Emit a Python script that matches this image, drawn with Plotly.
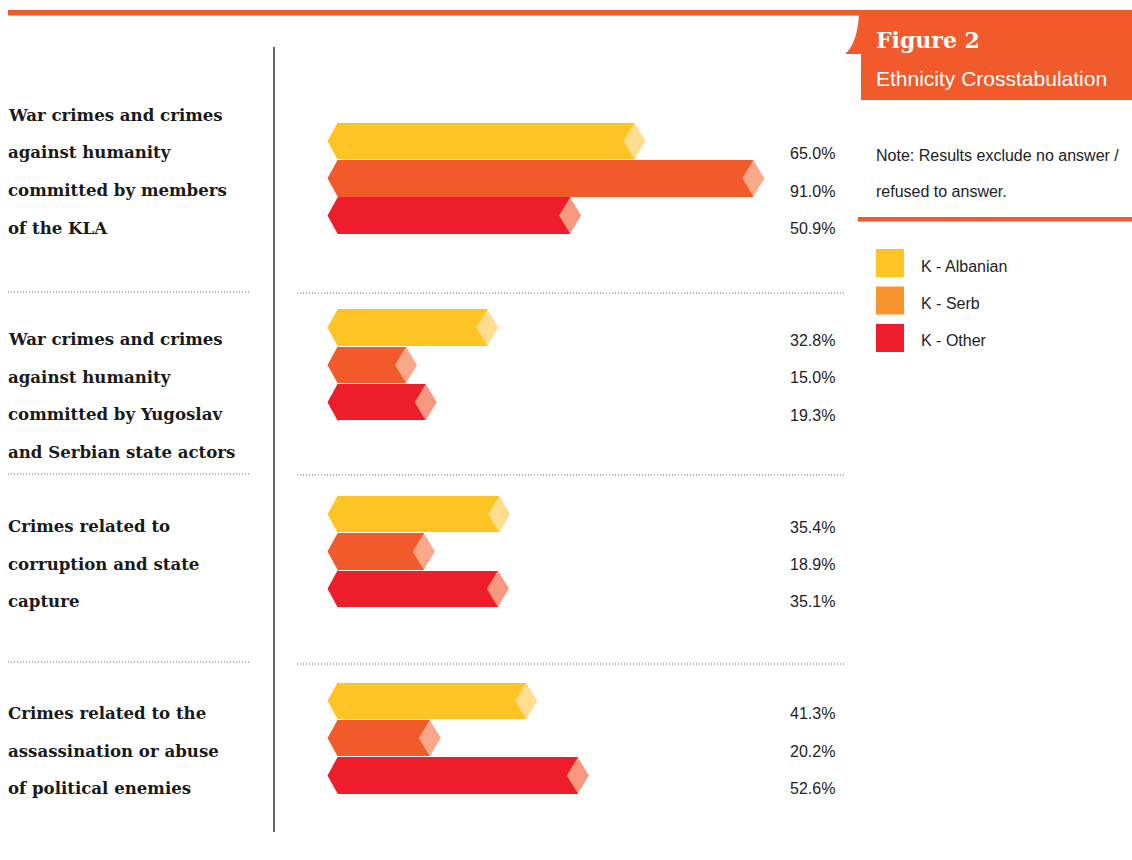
import plotly.graph_objects as go

# ---------------- data ----------------
categories = [
    ["War crimes and crimes", "against humanity", "committed by members", "of the KLA"],
    ["War crimes and crimes", "against humanity", "committed by Yugoslav", "and Serbian state actors"],
    ["Crimes related to", "corruption and state", "capture"],
    ["Crimes related to the", "assassination or abuse", "of political enemies"],
]
series_names = ["K - Albanian", "K - Serb", "K - Other"]
albanian = [65.0, 32.8, 35.4, 41.3]
serb = [91.0, 15.0, 18.9, 20.2]
other = [50.9, 19.3, 35.1, 52.6]
series_values = [albanian, serb, other]

title_text = "Figure 2"
subtitle_text = "Ethnicity Crosstabulation"
note_lines = ["Note: Results exclude no answer /", "refused to answer."]

# ---------------- styling / layout ----------------
W, H = 1132, 860
X0 = 337.5          # pixel position of 0 %
PX = 4.57           # pixels per percent
Y_FIRST = 141.0
GROUP_STEP = 186.6
BAR_STEP = 37.3
BAR_H = 36.4
CHEV = 10.0 / PX    # left chevron depth (in % units)
DIA = 11.0 / PX     # half width of end diamond (in % units)
OVL = 0.4           # small overlap to hide seams

bar_colors = ["#FEC423", "#F15A2B", "#EE1D2B"]
dia_colors = ["#FFDD90", "#F9A98A", "#F6977F"]
legend_colors = ["#FEC423", "#F7942C", "#EE1D2B"]
ORANGE = "#F15A2B"
TXT = "#222222"
SANS = "Liberation Sans, Arial"

label_first_y = [115, 339, 526, 713]
LINE_STEP = 37.5
sep_left_y = [292, 474, 662]
sep_right_y = [293, 475, 664]
PAD = 2  # annotation inner padding offset

def px(x):
    return x / W

def py(y):
    return 1 - y / H

fig = go.Figure()

for s, (name, vals) in enumerate(zip(series_names, series_values)):
    ys = [Y_FIRST + g * GROUP_STEP + s * BAR_STEP for g in range(len(vals))]
    # bar bodies
    fig.add_trace(go.Bar(
        x=vals, y=ys, base=0, orientation="h", width=BAR_H,
        marker=dict(color=bar_colors[s], line=dict(width=0)),
        name=name, showlegend=False, hoverinfo="x",
    ))
    # left chevrons and end diamonds
    cx, cy, dx, dy = [], [], [], []
    h2 = BAR_H / 2
    for v, y in zip(vals, ys):
        cx += [OVL, 0, -CHEV, 0, OVL, OVL, None]
        cy += [y - h2, y - h2, y, y + h2, y + h2, y - h2, None]
        dx += [v - DIA, v, v + DIA, v, v - DIA, None]
        dy += [y, y - h2, y, y + h2, y, None]
    fig.add_trace(go.Scatter(x=cx, y=cy, mode="lines", fill="toself",
                             fillcolor=bar_colors[s], line=dict(width=0),
                             showlegend=False, hoverinfo="skip"))
    fig.add_trace(go.Scatter(x=dx, y=dy, mode="lines", fill="toself",
                             fillcolor=dia_colors[s], line=dict(width=0),
                             showlegend=False, hoverinfo="skip"))
    # value labels
    for v, y in zip(vals, ys):
        fig.add_annotation(x=px(790 - PAD), y=py(y + 13), xref="paper", yref="paper",
                           text=f"{v:.1f}%", showarrow=False, xanchor="left",
                           yanchor="middle", font=dict(family=SANS, size=16, color=TXT))

# category labels
for g, lines in enumerate(categories):
    for i, line in enumerate(lines):
        fig.add_annotation(x=px(8 - PAD), y=py(label_first_y[g] + i * LINE_STEP),
                           xref="paper", yref="paper", text=f"<b>{line}</b>",
                           showarrow=False, xanchor="left", yanchor="middle",
                           font=dict(family="DejaVu Serif", size=16.6, color="#1a1a1a"))

shapes = []
# top orange rule
shapes.append(dict(type="rect", xref="paper", yref="paper", x0=px(8), x1=px(862),
                   y0=py(15.5), y1=py(10), fillcolor=ORANGE, line=dict(width=0)))
# title tab
path = (f"M {px(860)},{py(10)} L {px(1132)},{py(10)} L {px(1132)},{py(100)} "
        f"L {px(861)},{py(100)} L {px(861)},{py(54)} L {px(845)},{py(54)} "
        f"Q {px(857)},{py(44)} {px(859)},{py(15)} Z")
shapes.append(dict(type="path", xref="paper", yref="paper", path=path,
                   fillcolor=ORANGE, line=dict(width=0)))
# note underline
shapes.append(dict(type="rect", xref="paper", yref="paper", x0=px(858), x1=px(1132),
                   y0=py(221.5), y1=py(217), fillcolor=ORANGE, line=dict(width=0)))
# vertical divider
shapes.append(dict(type="line", xref="paper", yref="paper", x0=px(274), x1=px(274),
                   y0=py(47), y1=py(832), line=dict(color="#333333", width=1.5)))
# dotted separators
for y in sep_left_y:
    shapes.append(dict(type="line", xref="paper", yref="paper", x0=px(8), x1=px(250),
                       y0=py(y), y1=py(y), line=dict(color="#666666", width=1, dash="1px,2px")))
for y in sep_right_y:
    shapes.append(dict(type="line", xref="paper", yref="paper", x0=px(297), x1=px(845),
                       y0=py(y), y1=py(y), line=dict(color="#666666", width=1, dash="1px,2px")))
# legend swatches + labels
for i, (name, col) in enumerate(zip(series_names, legend_colors)):
    top = 249 + i * 37.5
    shapes.append(dict(type="rect", xref="paper", yref="paper", x0=px(876), x1=px(904),
                       y0=py(top + 28), y1=py(top), fillcolor=col, line=dict(width=0)))
    fig.add_annotation(x=px(921 - PAD), y=py(top + 17), xref="paper", yref="paper", text=name,
                       showarrow=False, xanchor="left", yanchor="middle",
                       font=dict(family=SANS, size=16, color=TXT))

# title texts
fig.add_annotation(x=px(876 - PAD), y=py(40), xref="paper", yref="paper", text=f"<b>{title_text}</b>",
                   showarrow=False, xanchor="left", yanchor="middle",
                   font=dict(family="DejaVu Serif", size=22, color="white"))
fig.add_annotation(x=px(876 - PAD), y=py(78), xref="paper", yref="paper", text=subtitle_text,
                   showarrow=False, xanchor="left", yanchor="middle",
                   font=dict(family=SANS, size=21, color="white"))
for i, line in enumerate(note_lines):
    fig.add_annotation(x=px(876 - PAD), y=py(155 + i * 36.5), xref="paper", yref="paper", text=line,
                       showarrow=False, xanchor="left", yanchor="middle",
                       font=dict(family=SANS, size=16, color=TXT))

fig.update_layout(
    width=W, height=H, margin=dict(l=0, r=0, t=0, b=0),
    paper_bgcolor="white", plot_bgcolor="white",
    xaxis=dict(range=[-X0 / PX, (W - X0) / PX], visible=False, fixedrange=True),
    yaxis=dict(range=[H, 0], visible=False, fixedrange=True),
    barmode="overlay", bargap=0, showlegend=False,
    shapes=shapes,
)

fig.write_html("out.html", config={"displayModeBar": False},
               post_script="document.body.style.margin='0';document.body.style.overflow='hidden';")
